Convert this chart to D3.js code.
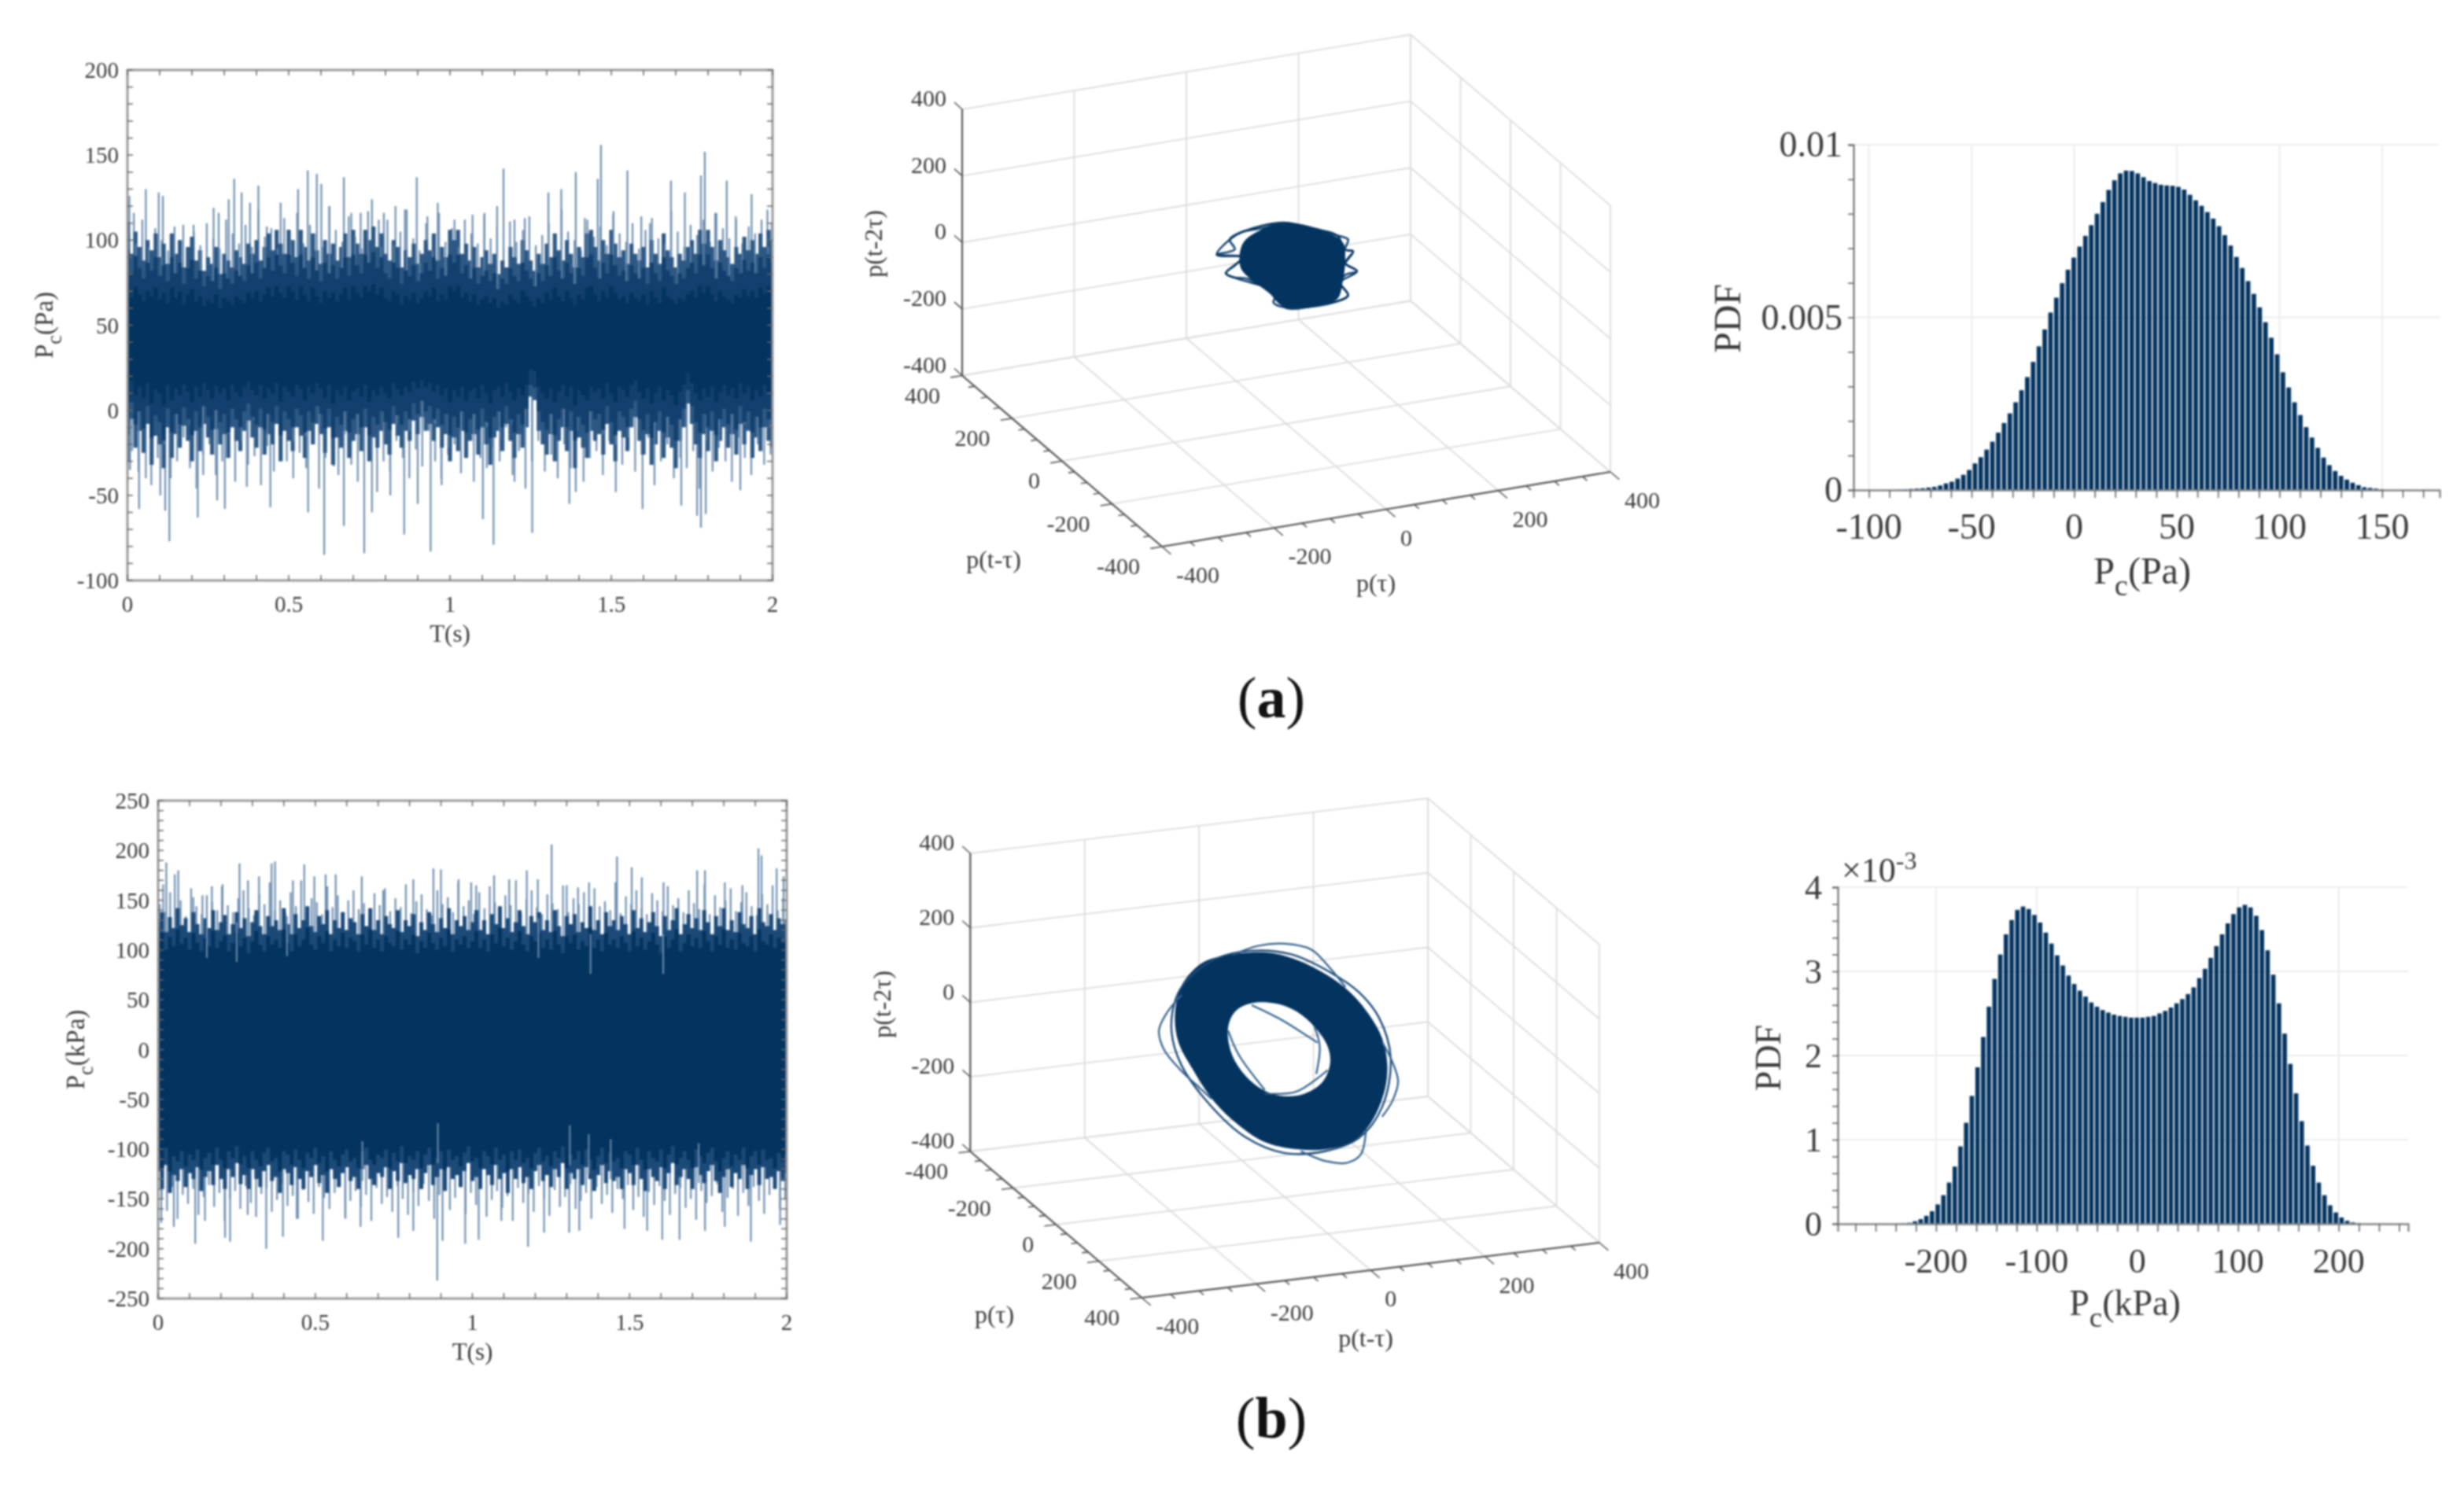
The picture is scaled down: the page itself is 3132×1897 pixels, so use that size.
<!DOCTYPE html>
<html>
<head>
<meta charset="utf-8">
<script src="https://cdn.jsdelivr.net/npm/d3@7"></script>
<style>
  body { margin: 0; background: #fff; }
  svg { display: block; filter: blur(0.8px); }
  text { font-family: "Liberation Serif", serif; fill: #3a3a3a; }
</style>
</head>
<body>
<div id="chart"></div>
<script>
// ---- time series (a): pressure spikes
const spikeUpTimeA = [.006,.02,.057,.097,.11,.173,.205,.267,.283,.314,.331,.354,.38,.406,.432,.475,.5,.529,.559,.587,.601,.626,.671,.694,.723,.758,.779,.795,.831,.86,.897,.93,.962,1.014,1.07,1.107,1.146,1.166,1.2,1.232,1.305,1.345,1.39,1.418,1.458,1.468,1.507,1.55,1.593,1.62,1.685,1.728,1.778,1.79,1.822,1.858,1.887,1.935,1.984,1.997];
const spikeUpValueA = [126,116,130,128,126,109,109,119,116,124,136,128,122,132,108,122,106,130,141,139,133,120,137,116,116,124,112,116,120,118,137,114,122,112,115,116,120,142,112,113,128,130,140,113,136,156,117,141,114,110,135,128,138,152,116,135,112,127,118,110];
const spikeDownTimeA = [.008,.036,.057,.102,.117,.13,.218,.235,.278,.302,.37,.443,.56,.61,.64,.671,.734,.758,.858,.815,.94,.973,.9,1.102,1.135,1.2,1.255,1.37,1.39,1.597,1.717,1.766,1.778,1.793,1.9];
const spikeDownValueA = [-35,-58,-40,-50,-59,-77,-63,-38,-53,-58,-45,-57,-60,-85,-33,-68,-84,-60,-73,-50,-83,-40,-55,-64,-79,-42,-72,-55,-48,-58,-56,-62,-69,-61,-47];
const tierUpA = [104,98,112,96,107,100,94,108,99,92,105,97,110,101,95,112,104,98,109,96,118,102,107,95,113,100,116,98,109,104,96,120,106,99,114,102,95,117,108,100,112,97,105,118,101,94,110,103,116,99,107,96,112,104,98,115,101,108,95,111,99,106,114,97,103,110,96,118,105,100,94,112,102,108,97,115,104,99,110,95,106,113,101,98,117,105,96,109,103,112,99,116,107,101,114,98,108,104,112,100];
const tierDownA = [-24,-36,-18,-44,-28,-22,-40,-30,-16,-34,-46,-26,-20,-38,-30,-24,-42,-18,-32,-27,-44,-21,-36,-16,-30,-40,-25,-34,-19,-46,-28,-22,-38,-14,-32,-42,-26,-20,-48,-30,-36,-18,-28,-40,-23,-33,-12,-30,-44,-26,-20,-37,-16,-42,-28,-34,-22,-30,-10,-38,-24,-46,-30,-18,-36,-26,-40,-20,-34,-14,-42,-28,-24,-38,-18,-48,-32,-22,-36,-26,-16,-44,-30,-20,-40,-28,-34,-24,-46,-18,-36,-22,-30,-42,-16,-28,-38,-20,-32,-26];
const bandHighA = [110,92,105,96,88,100,94,104,90,98,86,104,92,100,84,96,102,88,94,82,90,86,96,80,92,88,84,94,90,86,98,92,100,88,96,104,94,106,98,92,106,100,90,106,96,88,104,94,86,100,92,98,88,96,104,90,106,98,92,106,100,108,96,104,92,88,100,96,84,94,90,98,86,92,100,94,104,88,96,90,106,100,106,92,98,88,96,84,90,94,86,92,80,88,84,96,90,86,100,94,88,82,92,86,98,90,104,94,88,100,92,84,96,90,104,106,96,88,100,92,106,98,90,94,86,98,92,88,96,84,100,92,86,104,94,90,84,92,88,96,100,92,106,98,106,96,88,100,94,90,86,96,92,102,94,100,92,104,96,106,100];
const bandLowA = [-30,-5,-22,-12,-25,-8,-32,-15,-20,-34,-10,-28,-14,-22,-9,-18,-30,-12,-24,-8,-16,-26,-11,-20,-14,-28,-10,-18,-24,-12,-6,-16,-22,-10,-26,-14,-20,-8,-30,-12,-18,-24,-10,-15,-28,-12,-20,-8,-14,-25,-10,-32,-16,-22,-12,-28,-18,-14,-24,-10,-30,-16,-22,-12,-20,-26,-8,-15,-22,-12,-18,-6,-14,-4,-12,-8,-18,-10,-22,-14,-30,-16,-24,-12,-28,-18,-14,-26,-10,-20,-32,-16,-12,-24,-8,-18,-28,-14,-22,-10,8,6,-12,-20,-26,-14,-30,-18,-10,-24,-12,-34,-16,-22,-28,-12,-18,-14,-26,-8,-20,-30,-12,-16,-24,-10,-4,-18,-26,-14,-32,-20,-12,-28,-16,-22,-34,-18,-10,4,-8,-20,-28,-14,-24,-12,-30,-18,-10,-22,-14,-26,-8,-20,-12,-28,-16,-24,-10,-18,-22];

// ---- time series (b)
const spikeUpTimeB = [.016,.026,.053,.064,.112,.141,.171,.203,.259,.286,.321,.361,.372,.429,.465,.497,.533,.565,.648,.716,.812,.876,.9,.956,.996,1.012,1.069,1.117,1.173,1.208,1.252,1.3,1.336,1.371,1.46,1.507,1.539,1.608,1.715,1.74,1.803,1.859,1.91,1.92,1.968,1.99];
const spikeUpValueB = [166,188,176,180,153,155,164,164,187,170,174,187,189,170,186,174,176,176,174,160,171,182,181,171,168,165,175,171,180,171,206,165,163,168,194,183,173,168,180,180,168,165,202,195,182,174];
const spikeDownTimeB = [.01,.05,.118,.149,.213,.229,.285,.344,.397,.441,.524,.596,.644,.764,.812,.888,.905,.977,1.02,1.092,1.177,1.228,1.308,1.34,1.484,1.556,1.604,1.659,1.74,1.803,1.886,1.979];
const spikeDownValueB = [-174,-178,-195,-172,-189,-193,-166,-200,-188,-170,-192,-170,-178,-189,-182,-232,-192,-195,-191,-172,-198,-184,-184,-182,-180,-182,-191,-191,-182,-178,-193,-176];
const tierUpB = [146,138,158,142,150,134,162,144,136,155,148,140,166,145,138,152,160,142,135,156,146,168,140,150,137,158,144,170,139,152,148,136,164,143,155,138,150,160,141,147,134,157,145,162,139,152,143,166,137,149,156,141,135,160,146,153,138,168,144,150,136,158,142,164,148,139,155,145,170,137,151,160,143,136,156,147,141,165,138,152,146,158,135,162,144,149,140,168,137,154,146,160,142,136,157,150,139,164,145,152,138,160,147,141,166,136,155,143,150,162,139,148,158,144,135,156,146,165,140,152];
const tierDownB = [-150,-162,-138,-170,-146,-155,-140,-166,-148,-136,-158,-144,-172,-150,-142,-160,-137,-154,-168,-145,-139,-163,-151,-135,-157,-147,-170,-141,-153,-165,-138,-149,-160,-144,-136,-168,-152,-142,-158,-146,-172,-139,-155,-148,-163,-137,-150,-166,-143,-157,-135,-152,-170,-146,-140,-161,-149,-138,-165,-144,-156,-136,-168,-151,-142,-159,-147,-172,-139,-154,-145,-163,-137,-150,-167,-141,-158,-148,-135,-160,-152,-144,-170,-138,-155,-146,-164,-140,-150,-136,-161,-148,-168,-143,-156,-137,-152,-166,-145,-139,-159,-150,-171,-142,-154,-147,-135,-163,-149,-140,-167,-144,-157,-138,-152,-165,-146,-136,-160,-150];
const bandHighB = [128,138,118,133,122,142,125,132,118,138,126,116,132,122,140,120,128,135,116,126,138,122,132,114,128,140,124,116,134,124,130,120,142,126,116,136,122,130,144,124,118,134,126,140,116,130,122,138,120,132,128,116,136,124,142,120,130,116,134,126,122,140,118,130,124,136,114,128,120,138,126,118,132,122,142,116,130,124,134,120,128,140,120,130,116,136,126,144,122,132,118,128,140,124,116,134,128,138,120,130,118,140,124,114,134,126,136,118,128,122,144,120,130,116,138,124,130,120,134,126,116,140,122,132,118,128,138,124,114,134,120,130,142,116,126,136,122,132,120,140,128,116,134,124,142,120,130,118,138,126,122,134,116,142,128,124,136,120,132,126,130];
const bandLowB = [-122,-140,-116,-144,-126,-132,-120,-138,-124,-130,-118,-142,-128,-122,-136,-116,-130,-140,-120,-128,-114,-135,-126,-140,-120,-130,-138,-122,-116,-132,-128,-144,-120,-124,-136,-118,-130,-140,-122,-128,-116,-134,-126,-144,-120,-130,-138,-124,-118,-132,-128,-140,-120,-116,-130,-136,-124,-128,-118,-140,-122,-132,-114,-134,-126,-130,-120,-140,-124,-116,-136,-128,-120,-142,-118,-130,-126,-138,-122,-114,-132,-128,-140,-120,-126,-136,-116,-130,-124,-144,-120,-130,-118,-134,-128,-140,-122,-116,-132,-126,-138,-120,-128,-114,-140,-124,-130,-120,-136,-118,-130,-142,-126,-116,-134,-122,-132,-128,-140,-120,-124,-136,-116,-130,-142,-120,-128,-132,-118,-140,-124,-114,-136,-128,-120,-130,-140,-118,-126,-134,-122,-116,-132,-144,-128,-120,-138,-124,-130,-116,-140,-126,-120,-136,-118,-130,-128,-140,-122,-132,-124];
const gapUpTimeB = [.155,.25,.41,1.21,1.376,1.607];
const gapUpValueB = [92,88,94,92,76,76];
const gapDownTimeB = [.89,1.31,1.37,1.44,.65,1.72];
const gapDownValueB = [-74,-76,-85,-90,-92,-94];

// ---- phase portraits: points in the p(t-tau), p(t-2tau) section
const outlineXA = [11,43,76,109,128,123,137,128,123,144,123,114,128,100,62,15,-5,1,-22,-50,-78,-90,-74,-60,-106,-74,-83,-60,-22];
const outlineZA = [175,157,136,109,92,63,54,33,22,-8,-13,-34,-76,-90,-91,-80,-60,-33,-8,23,37,52,71,91,112,119,151,168,169];
const coreXA = [11,72,118,123,118,109,62,11,-13,-46,-64,-60,-27];
const coreZA = [172,137,88,34,-36,-81,-89,-74,-29,22,63,132,165];
const planeYA = 40;
const outerXB = [-64,-18,28,74,115,147,170,179,175,152,120,74,19,-36,-82,-124,-160,-186,-192,-180,-146,-105];
const outerZB = [268,257,227,182,127,63,-5,-75,-143,-225,-272,-285,-275,-245,-190,-120,-30,50,125,202,254,268];
const innerXB = [-58,-17,20,52,75,79,66,34,-8,-44,-77,-95,-99,-86];
const innerZB = [131,123,95,47,-10,-58,-103,-129,-127,-99,-45,11,75,115];
const orbitXB = [[-180,-206,-220,-211,-183,-146,-128],[-91,-46,0,46,78,106],[28,74,110,133,142],[170,188,198,188,170],[-99,-81,-35],[52,61,55],[-58,-8,57],[-35,20,75]];
const orbitZB = [[176,133,88,34,-24,-84,-113],[267,283,280,256,202,144],[-282,-318,-328,-310,-245],[-15,-72,-126,-177,-216],[65,-2,-106],[47,-7,-80],[126,79,4],[-116,-121,-73]];
const rimXB = [-170,-120,-60,10,80,130,165,185,170,130,70,0,-70,-130,-180,-198,-190];
const rimZB = [215,262,272,250,188,125,50,-60,-190,-265,-290,-282,-225,-130,-15,80,170];
const planeYB = 0;

// ---- histograms
const pdfStartA = -85.1, pdfStepA = 2.83;
const pdfA = [.00001,.00002,.00003,.00004,.00005,.00007,.00009,.00013,.00019,.00024,.00033,.00044,.00058,.00077,.00095,.00117,.0014,.00166,.00194,.00222,.00254,.00289,.00327,.00371,.00416,.00465,.00514,.00557,.00599,.00638,.00673,.00705,.00736,.00767,.008,.00834,.00869,.00897,.00917,.00925,.00924,.00917,.00906,.00895,.00889,.00884,.00882,.00881,.00878,.0087,.00855,.00839,.00823,.00805,.00786,.00764,.00738,.00708,.00675,.00643,.00605,.00568,.00529,.00486,.00441,.00393,.00341,.00297,.00254,.00217,.00182,.00152,.00122,.00094,.00072,.00055,.00041,.0003,.00021,.00014,.00008,.00006,.00004,.00002];
const pdfStartB = -232.2, pdfStepB = 5.65;
const pdfB = [.005,.012,.03,.055,.095,.15,.23,.34,.49,.68,.92,1.2,1.52,1.86,2.22,2.58,2.91,3.2,3.44,3.61,3.73,3.77,3.74,3.67,3.58,3.46,3.33,3.19,3.07,2.95,2.85,2.77,2.7,2.63,2.58,2.54,2.51,2.485,2.47,2.46,2.45,2.45,2.45,2.46,2.47,2.5,2.53,2.57,2.62,2.67,2.73,2.81,2.92,3.03,3.16,3.3,3.44,3.57,3.68,3.76,3.79,3.76,3.66,3.49,3.25,2.96,2.62,2.26,1.9,1.55,1.22,.93,.69,.49,.34,.22,.135,.075,.036,.016,.008];

// ---- tick labels
const timeTicks = [0,.5,1,1.5,2];
const pressureTicksA = [-100,-50,0,50,100,150,200];
const pressureTicksB = [-250,-200,-150,-100,-50,0,50,100,150,200,250];
const cubeTicks = [-400,-200,0,200,400];
const pdfXTicksA = [-100,-50,0,50,100,150];
const pdfYTicksA = [0,.005,.01];
const pdfXTicksB = [-200,-100,0,100,200];
const pdfYTicksB = [0,1,2,3,4];

const dark = "#03335f", light = "#6d8eb0", mid = "#1c4a78";
const width = 3132, height = 1897;

const svg = d3.select("#chart").append("svg")
  .attr("width", width)
  .attr("height", height)
  .attr("viewBox", [0, 0, width, height]);

// P with a subscript c, then the unit
function subLabel(g, unit, size) {
  g.attr("font-size", size);
  g.append("tspan").text("P");
  g.append("tspan").attr("font-size", size * 0.8).attr("dy", size * 0.32).text("c");
  g.append("tspan").attr("dy", -size * 0.32).text(unit);
}

function timePanel(box, yTicks, minorStep, spikes, tier, band, layers, gaps, labels) {
  const x = d3.scaleLinear().domain([0, 2]).range([box.left, box.right]);
  const y = d3.scaleLinear().domain(d3.extent(yTicks)).range([box.bottom, box.top]);
  const g = svg.append("g");
  const center = labels.center;

  // spikes go from the middle of the band out to the value
  const spikeG = g.append("g").attr("fill", "none").attr("stroke", light).attr("stroke-width", 2.2);
  const vline = (sel, t, v) => sel.append("line").attr("x1", x(t)).attr("x2", x(t)).attr("y1", y(center)).attr("y2", y(v));
  spikes.upT.forEach((t, i) => vline(spikeG, t, spikes.upV[i]));
  spikes.downT.forEach((t, i) => vline(spikeG, t, spikes.downV[i]));
  tier.up.forEach((v, i) => vline(spikeG, 2 * (i + 0.3) / tier.up.length, v));
  tier.down.forEach((v, i) => vline(spikeG, 2 * (i + 0.7) / tier.down.length, v));

  // nested bands of the trace, outer one lightest
  const n = Math.min(band.hi.length, band.lo.length);
  layers.forEach(layer => {
    const rows = d3.range(n).map(i => ({
      t: 2 * i / (n - 1),
      hi: center + (band.hi[i] - center) * layer.k,
      lo: center + (band.lo[i] - center) * layer.k
    }));
    g.append("path").datum(rows).attr("fill", layer.color)
      .attr("d", d3.area().curve(d3.curveStep).x(d => x(d.t)).y0(d => y(d.lo)).y1(d => y(d.hi)));
    if (layer.streak) {
      const sg = g.append("g").attr("stroke", layer.streak).attr("stroke-width", 2).attr("stroke-opacity", 0.6);
      tier.up.forEach((v, i) => { if (i % 2) vline(sg, 2 * (i + 0.3) / tier.up.length, Math.min(v, band.hi[Math.round(i * (n - 1) / tier.up.length)])); });
      tier.down.forEach((v, i) => { if (i % 2) vline(sg, 2 * (i + 0.7) / tier.down.length, Math.max(v, band.lo[Math.round(i * (n - 1) / tier.down.length)])); });
    }
  });

  // light streaks cutting into the core
  if (gaps) {
    const gg = g.append("g").attr("stroke", light).attr("stroke-width", 2);
    gaps.upT.forEach((t, i) => gg.append("line").attr("x1", x(t)).attr("x2", x(t)).attr("y1", y(gaps.upV[i])).attr("y2", y(gaps.upV[i] + 40)));
    gaps.downT.forEach((t, i) => gg.append("line").attr("x1", x(t)).attr("x2", x(t)).attr("y1", y(gaps.downV[i])).attr("y2", y(gaps.downV[i] - 40)));
  }

  // frame
  g.append("rect").attr("x", box.left).attr("y", box.top)
    .attr("width", box.right - box.left).attr("height", box.bottom - box.top)
    .attr("fill", "none").attr("stroke", "#9a9a9a").attr("stroke-width", 3);

  // inward ticks on all four sides
  const xMinor = d3.range(0, 2.01, 0.1);
  const yMinor = d3.range(y.domain()[0], y.domain()[1] + 1, minorStep);
  const ticks = g.append("g").attr("stroke", "#6a6a6a").attr("stroke-width", 1.5);
  xMinor.forEach(t => {
    ticks.append("line").attr("x1", x(t)).attr("x2", x(t)).attr("y1", box.bottom).attr("y2", box.bottom - 7);
    ticks.append("line").attr("x1", x(t)).attr("x2", x(t)).attr("y1", box.top).attr("y2", box.top + 7);
  });
  yMinor.forEach(v => {
    ticks.append("line").attr("x1", box.left).attr("x2", box.left + 7).attr("y1", y(v)).attr("y2", y(v));
    ticks.append("line").attr("x1", box.right).attr("x2", box.right - 7).attr("y1", y(v)).attr("y2", y(v));
  });

  // tick labels
  const fs = 29;
  timeTicks.forEach(t => g.append("text").attr("x", x(t)).attr("y", box.bottom + 40)
    .attr("font-size", fs).attr("text-anchor", "middle").text(t));
  yTicks.forEach(v => g.append("text").attr("x", box.left - 11).attr("y", y(v) + 10)
    .attr("font-size", fs).attr("text-anchor", "end").text(v));
  g.append("text").attr("x", (box.left + box.right) / 2).attr("y", box.bottom + 78)
    .attr("font-size", 31).attr("text-anchor", "middle").text("T(s)");
  const yl = g.append("text").attr("text-anchor", "middle")
    .attr("transform", `translate(${box.left + labels.yLabelDx},${(box.top + box.bottom) / 2}) rotate(-90)`);
  subLabel(yl, labels.unit, 33);
}

timePanel({ left: 162, right: 982, top: 89, bottom: 738 }, pressureTicksA, 10,
  { upT: spikeUpTimeA, upV: spikeUpValueA, downT: spikeDownTimeA, downV: spikeDownValueA },
  { up: tierUpA, down: tierDownA }, { hi: bandHighA, lo: bandLowA },
  [{ k: 1, color: "#2d5884", streak: "#7f9dbb" }, { k: 0.78, color: "#123f6d" }, { k: 0.5, color: dark }], null,
  { center: 40, unit: "(Pa)", yLabelDx: -95 });

timePanel({ left: 201, right: 1000, top: 1018, bottom: 1651 }, pressureTicksB, 10,
  { upT: spikeUpTimeB, upV: spikeUpValueB, downT: spikeDownTimeB, downV: spikeDownValueB },
  { up: tierUpB, down: tierDownB }, { hi: bandHighB, lo: bandLowB },
  [{ k: 1, color: mid }, { k: 0.85, color: dark }],
  { upT: gapUpTimeB, upV: gapUpValueB, downT: gapDownTimeB, downV: gapDownValueB },
  { center: 0, unit: "(kPa)", yLabelDx: -94 });

// ---- 3D boxes, the three axes are scales onto screen vectors
function cubePanel(c) {
  const xS = d3.scaleLinear().domain([-400, 400]).range([[0, 0], c.xVec]);
  const yS = d3.scaleLinear().domain(c.yDomain).range([[0, 0], c.yVec]);
  const zS = d3.scaleLinear().domain([-400, 400]).range([0, -c.zHeight]);
  const P = (x, y, z) => {
    const a = xS(x), b = yS(y);
    return [c.front[0] + a[0] + b[0], c.front[1] + a[1] + b[1] + zS(z)];
  };
  const yNear = c.yDomain[0], yFar = c.yDomain[1];
  const g = svg.append("g");
  const seg = (sel, p, q) => sel.append("line").attr("x1", p[0]).attr("y1", p[1]).attr("x2", q[0]).attr("y2", q[1]);

  const grid = g.append("g").attr("stroke", "#dcdcdc").attr("stroke-width", 1.8);
  cubeTicks.forEach(v => {
    seg(grid, P(v, yNear, -400), P(v, yFar, -400));
    seg(grid, P(-400, v, -400), P(400, v, -400));
    seg(grid, P(v, yFar, -400), P(v, yFar, 400));
    seg(grid, P(-400, yFar, v), P(400, yFar, v));
    seg(grid, P(400, v, -400), P(400, v, 400));
    seg(grid, P(400, yNear, v), P(400, yFar, v));
  });

  c.draw(g, P);

  // axes
  const ax = g.append("g").attr("stroke", "#555").attr("stroke-width", 2.2);
  seg(ax, P(-400, yNear, -400), P(400, yNear, -400));
  seg(ax, P(-400, yNear, -400), P(-400, yFar, -400));
  seg(ax, P(-400, yFar, -400), P(-400, yFar, 400));
  const xDir = c.yDirOut, yDir = c.xDirOut;
  d3.range(-400, 401, 50).forEach(v => {
    const len = v % 200 === 0 ? 15 : 8;
    const p = P(v, yNear, -400);
    seg(ax, p, [p[0] + xDir[0] * len, p[1] + xDir[1] * len]).attr("stroke-width", 1.6);
    const q = P(-400, v, -400);
    seg(ax, q, [q[0] + yDir[0] * len, q[1] + yDir[1] * len]).attr("stroke-width", 1.6);
  });
  cubeTicks.forEach(v => {
    const p = P(-400, yFar, v);
    seg(ax, p, [p[0] - 10, p[1] - 9]).attr("stroke-width", 1.6);
    g.append("text").attr("x", p[0] - 20).attr("y", p[1] - 4).attr("text-anchor", "end").attr("font-size", 30).text(v);
    const q = P(v, yNear, -400);
    g.append("text").attr("x", q[0] + 18).attr("y", q[1] + 46).attr("font-size", 30).text(v);
    const r = P(-400, v, -400);
    g.append("text").attr("x", r[0] - 28).attr("y", r[1] + 35).attr("text-anchor", "end").attr("font-size", 30).text(v);
  });

  g.append("text").attr("text-anchor", "middle").attr("font-size", 32)
    .attr("transform", `translate(${c.zLabel[0]},${c.zLabel[1]}) rotate(-90)`).text("p(t-2τ)");
  g.append("text").attr("text-anchor", "middle").attr("font-size", 32)
    .attr("x", c.xLabel[0]).attr("y", c.xLabel[1]).text(c.xName);
  g.append("text").attr("text-anchor", "middle").attr("font-size", 32)
    .attr("x", c.yLabel[0]).attr("y", c.yLabel[1]).text(c.yName);
}

const traceLine = d3.line().curve(d3.curveCatmullRomClosed);
const openLine = d3.line().curve(d3.curveCatmullRom);

cubePanel({
  front: [1477, 695], xVec: [570, -95], yVec: [-254, -217.5], zHeight: 338.5, yDomain: [-400, 400],
  yDirOut: [0.76, 0.65], xDirOut: [-0.986, 0.16],
  zLabel: [1121, 310], xLabel: [1749, 752], yLabel: [1263, 722], xName: "p(τ)", yName: "p(t-τ)",
  draw: (g, P) => {
    const pts = outlineXA.map((x, i) => P(x, planeYA, outlineZA[i]));
    const core = coreXA.map((x, i) => P(x, planeYA, coreZA[i]));
    g.append("path").attr("fill", "none").attr("stroke", "#1c4a78").attr("stroke-width", 2.8).attr("d", traceLine(pts));
    // second pass of the loop, skipping points, gives the tangled rim
    const skip = pts.filter((p, i) => i % 3 !== 1);
    g.append("path").attr("fill", "none").attr("stroke", dark).attr("stroke-width", 2.4).attr("d", traceLine(skip));
    g.append("path").attr("fill", dark).attr("d", traceLine(core));
  }
});

cubePanel({
  front: [1451.3, 1650], xVec: [581.7, -70], yVec: [-218, -186], zHeight: 379, yDomain: [400, -400],
  yDirOut: [0.76, 0.65], xDirOut: [-0.99, 0.12],
  zLabel: [1132, 1277], xLabel: [1736, 1712], yLabel: [1264, 1682], xName: "p(t-τ)", yName: "p(τ)",
  draw: (g, P) => {
    const outer = outerXB.map((x, i) => P(x, planeYB, outerZB[i]));
    const inner = innerXB.map((x, i) => P(x, planeYB, innerZB[i]));
    g.append("path").attr("fill", dark).attr("fill-rule", "evenodd")
      .attr("d", traceLine(outer) + traceLine(inner));
    // thin stray orbits and a rougher rim
    const rim = rimXB.map((x, i) => P(x, planeYB, rimZB[i]));
    g.append("path").attr("fill", "none").attr("stroke", "#1c4a78").attr("stroke-width", 2.4).attr("d", traceLine(rim));
    orbitXB.forEach((xs, k) => {
      const pts = xs.map((x, i) => P(x, planeYB, orbitZB[k][i]));
      g.append("path").attr("fill", "none").attr("stroke", "#2f5d8a").attr("stroke-width", 2.2).attr("d", openLine(pts));
    });
  }
});

// ---- histograms
function pdfPanel(c) {
  const x = d3.scaleLinear().domain(c.xDomain).range([c.left, c.right]);
  const y = d3.scaleLinear().domain(c.yDomain).range([c.bottom, c.top]);
  const g = svg.append("g");

  const grid = g.append("g").attr("stroke", "#ececec").attr("stroke-width", 2);
  c.xTicks.forEach(v => grid.append("line").attr("x1", x(v)).attr("x2", x(v)).attr("y1", c.top).attr("y2", c.bottom));
  c.yTicks.forEach(v => grid.append("line").attr("x1", c.left).attr("x2", c.right).attr("y1", y(v)).attr("y2", y(v)));

  const bw = x(c.step) - x(0);
  g.selectAll(".bar").data(c.values).enter().append("rect")
    .attr("class", "bar")
    .attr("x", (d, i) => x(c.start + i * c.step) - bw * 0.39)
    .attr("width", bw * 0.78)
    .attr("y", d => y(d))
    .attr("height", d => c.bottom - y(d))
    .attr("fill", dark);

  g.append("g").attr("transform", `translate(0,${c.bottom})`)
    .call(d3.axisBottom(x).tickValues(d3.range(c.xMinorStart, c.xDomain[1], c.xMinor)).tickSize(10).tickFormat(""))
    .call(a => a.selectAll("line").attr("stroke", "#666").attr("stroke-width", 1.6))
    .call(a => a.select(".domain").attr("stroke", "#888").attr("stroke-width", 2.4));
  g.append("g").attr("transform", `translate(${c.left},0)`)
    .call(d3.axisLeft(y).tickValues(d3.range(c.yDomain[0], c.yDomain[1] + c.yMinor / 2, c.yMinor)).tickSize(7).tickFormat(""))
    .call(a => a.selectAll("line").attr("stroke", "#666").attr("stroke-width", 1.6))
    .call(a => a.select(".domain").attr("stroke", "#666").attr("stroke-width", 2));

  c.xTicks.forEach(v => g.append("text").attr("x", x(v)).attr("y", c.bottom + c.xTickDy)
    .attr("text-anchor", "middle").attr("font-size", c.fs).text(v));
  c.yTicks.forEach(v => g.append("text").attr("x", c.left - c.yTickDx).attr("y", y(v) + c.fs * 0.33)
    .attr("text-anchor", "end").attr("font-size", c.fs).text(v));

  subLabel(g.append("text").attr("x", c.xLabel[0]).attr("y", c.xLabel[1]).attr("text-anchor", "middle"), c.unit, c.labelSize);
  g.append("text").attr("text-anchor", "middle").attr("font-size", c.labelSize)
    .attr("transform", `translate(${c.yLabel[0]},${c.yLabel[1]}) rotate(-90)`).text("PDF");
}

pdfPanel({
  left: 2356, right: 3101, top: 184, bottom: 623, xDomain: [-107.5, 178], yDomain: [0, 0.01],
  values: pdfA, start: pdfStartA, step: pdfStepA,
  xTicks: pdfXTicksA, yTicks: pdfYTicksA, xMinor: 10, xMinorStart: -100, yMinor: 0.001,
  fs: 46, xTickDy: 62, yTickDx: 14, labelSize: 48, unit: "(Pa)", xLabel: [2723, 742], yLabel: [2212, 405]
});

pdfPanel({
  left: 2336, right: 3061, top: 1128, bottom: 1556, xDomain: [-297.6, 269], yDomain: [0, 4],
  values: pdfB, start: pdfStartB, step: pdfStepB,
  xTicks: pdfXTicksB, yTicks: pdfYTicksB, xMinor: 20, xMinorStart: -280, yMinor: 0.2,
  fs: 44, xTickDy: 62, yTickDx: 20, labelSize: 46, unit: "(kPa)", xLabel: [2701, 1672], yLabel: [2263, 1345]
});

// exponent above panel b's histogram
const expo = svg.append("text").attr("x", 2341).attr("y", 1121).attr("font-size", 44);
expo.append("tspan").text("×10");
expo.append("tspan").attr("font-size", 32).attr("dy", -16).text("-3");

// panel letters
[["a", 912], ["b", 1828]].forEach(([letter, yy]) => {
  const t = svg.append("text").attr("x", 1616).attr("y", yy).attr("text-anchor", "middle")
    .attr("font-size", 74).style("fill", "#111");
  t.append("tspan").text("(");
  t.append("tspan").attr("font-weight", "bold").text(letter);
  t.append("tspan").text(")");
});
</script>
</body>
</html>
